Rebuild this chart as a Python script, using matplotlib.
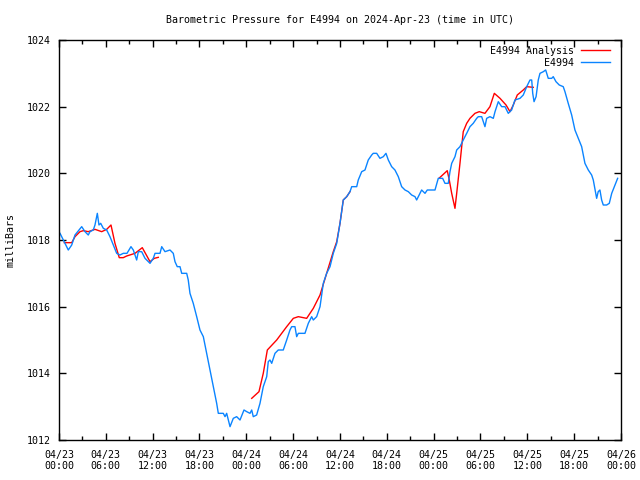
import numpy as np
import pandas as pd
import matplotlib
matplotlib.use('Agg')
from matplotlib import pyplot as plt
import matplotlib.dates as mdates

# hours since 2024-04-23 00:00 UTC, pressure in mb
obs_hours = [0.13, 1.19, 1.63, 2.05, 2.91, 3.33, 3.75, 3.97, 4.39, 4.61, 4.91, 5.12, 5.34, 5.68,
             6.11, 6.53, 6.96, 7.39, 7.81, 8.24, 8.71, 9.22, 9.52, 9.95, 10.16, 10.59, 11.02,
             11.66, 12.08, 12.3, 12.94, 13.16, 13.58, 14.22, 14.64, 14.86, 15.15, 15.5, 15.72,
             16.36, 16.56, 16.78, 17.2, 17.64, 18.06, 18.49, 18.92, 19.34, 19.77, 20.2, 20.41,
             21.05, 21.27, 21.48, 21.91, 22.33, 22.76, 23.19, 23.7, 24.05, 24.47, 24.69, 24.89,
             25.32, 25.75, 26.17, 26.61, 26.81, 27.03, 27.25, 27.67, 28.09, 28.73, 29.17, 29.59,
             29.81, 30.23, 30.45, 30.66, 31.51, 31.94, 32.37, 32.58, 33.01, 33.44, 33.86, 34.29,
             34.72, 35.14, 35.58, 36.0, 36.42, 36.86, 37.28, 37.5, 38.14, 38.34, 38.78, 39.2,
             39.62, 40.06, 40.26, 40.7, 41.12, 41.55, 41.89, 42.19, 42.62, 43.04, 43.47, 43.9,
             44.33, 44.75, 45.18, 45.61, 45.82, 46.25, 46.46, 46.89, 47.18, 48.17, 48.59, 49.15,
             49.45, 49.87, 50.09, 50.31, 50.73, 50.95, 51.37, 51.79, 52.23, 52.65, 53.07, 53.51,
             53.72, 54.15, 54.57, 54.79, 55.21, 55.64, 55.86, 56.28, 56.71, 57.14, 57.56, 57.99,
             58.41, 59.06, 59.48, 59.92, 60.34, 60.56, 60.69, 60.86, 61.12, 61.4, 61.62, 62.05,
             62.35, 62.68, 63.12, 63.32, 63.67, 64.09, 64.6, 64.82, 65.24, 65.68, 66.1, 66.53,
             66.96, 67.38, 67.81, 68.24, 68.45, 68.88, 69.08, 69.3, 69.52, 69.73, 70.16, 70.5,
             70.81, 71.23, 71.57]
obs_mb = [1018.2, 1017.7, 1017.85, 1018.15, 1018.4, 1018.25, 1018.15, 1018.25, 1018.3, 1018.45,
          1018.8, 1018.45, 1018.5, 1018.35, 1018.3, 1018.1, 1017.85, 1017.6, 1017.55, 1017.6,
          1017.6, 1017.8, 1017.7, 1017.4, 1017.65, 1017.65, 1017.45, 1017.3, 1017.45, 1017.6,
          1017.6, 1017.8, 1017.65, 1017.7, 1017.6, 1017.35, 1017.2, 1017.2, 1017.0, 1017.0,
          1016.8, 1016.4, 1016.1, 1015.7, 1015.3, 1015.1, 1014.6, 1014.1, 1013.6, 1013.1,
          1012.8, 1012.8, 1012.7, 1012.8, 1012.4, 1012.65, 1012.7, 1012.6, 1012.9, 1012.85,
          1012.8, 1012.9, 1012.7, 1012.75, 1013.1, 1013.6, 1013.9, 1014.35, 1014.4, 1014.3,
          1014.6, 1014.7, 1014.7, 1015.0, 1015.3, 1015.4, 1015.4, 1015.1, 1015.2, 1015.2,
          1015.5, 1015.7, 1015.6, 1015.7, 1016.0, 1016.7, 1017.0, 1017.2, 1017.6, 1017.9,
          1018.5, 1019.2, 1019.3, 1019.45, 1019.6, 1019.6, 1019.8, 1020.05, 1020.1, 1020.4,
          1020.55, 1020.6, 1020.6, 1020.45, 1020.5, 1020.6, 1020.4, 1020.2, 1020.1, 1019.9,
          1019.6, 1019.5, 1019.45, 1019.35, 1019.3, 1019.2, 1019.4, 1019.5, 1019.4, 1019.5,
          1019.5, 1019.85, 1019.85, 1019.7, 1019.7, 1020.05, 1020.3, 1020.5, 1020.7, 1020.8,
          1021.0, 1021.2, 1021.4, 1021.5, 1021.65, 1021.7, 1021.7, 1021.4, 1021.65, 1021.7,
          1021.65, 1021.85, 1022.15, 1022.0, 1022.0, 1021.8, 1021.9, 1022.2, 1022.25, 1022.35,
          1022.6, 1022.8, 1022.8, 1022.4, 1022.15, 1022.3, 1022.8, 1023.0, 1023.05, 1023.1,
          1022.85, 1022.85, 1022.9, 1022.75, 1022.65, 1022.6, 1022.45, 1022.1, 1021.75, 1021.3,
          1021.05, 1020.8, 1020.3, 1020.1, 1019.95, 1019.8, 1019.25, 1019.45, 1019.5, 1019.2,
          1019.05, 1019.05, 1019.1, 1019.4, 1019.65, 1019.85]

# analysis series, NaN marks the gaps
ana_hours = [0.68, 1.63, 2.05, 2.69, 3.11, 3.75, 4.61, 5.47, 6.11, 6.66, 7.17, 7.72, 8.23, 8.67,
             9.74, 10.67, 11.66, 12.21, 12.72, 13.0,
             24.69, 25.62, 26.17, 26.69, 27.89, 29.17, 30.02, 30.66, 31.73, 32.58, 33.44, 34.29,
             35.14, 35.58, 36.0, 36.42, 36.86, 37.28, 40.0,
             48.68, 49.74, 50.0, 50.31, 50.73, 50.95, 51.37, 51.59, 51.79, 52.23, 52.65, 53.29,
             53.84, 54.57, 55.21, 55.77, 56.5, 57.27, 57.78, 58.2, 58.71, 59.48, 59.92, 60.76]
ana_mb = [1017.92, 1017.92, 1018.1, 1018.25, 1018.28, 1018.25, 1018.32, 1018.25, 1018.32, 1018.45,
          1017.9, 1017.47, 1017.47, 1017.52, 1017.6, 1017.77, 1017.35, 1017.45, 1017.48, np.nan,
          1013.25, 1013.45, 1014.0, 1014.7, 1015.0, 1015.4, 1015.65, 1015.7, 1015.65, 1015.95,
          1016.35, 1017.0, 1017.65, 1017.95, 1018.5, 1019.2, 1019.3, 1019.45, np.nan,
          1019.85, 1020.08, 1019.8, 1019.4, 1018.95, 1019.4, 1020.3, 1020.8, 1021.25, 1021.5,
          1021.65, 1021.8, 1021.85, 1021.8, 1022.0, 1022.4, 1022.25, 1022.05, 1021.85, 1022.05,
          1022.35, 1022.5, 1022.6, 1022.58]

start = pd.Timestamp('2024-04-23 00:00')
obs_t = start + pd.to_timedelta(obs_hours, unit='h')
ana_t = start + pd.to_timedelta(ana_hours, unit='h')

plt.rcParams['font.family'] = 'DejaVu Sans Mono'
plt.rcParams['font.size'] = 7.2

fig = plt.figure(figsize=(6.4, 4.8), dpi=100)
ax = fig.add_axes([59 / 640, 40 / 480, 562 / 640, 400 / 480])

ax.plot(ana_t, ana_mb, color='#ff0000', lw=1, label='E4994 Analysis')
ax.plot(obs_t, obs_mb, color='#0a84ff', lw=1, label='E4994')

ax.set_xlim(start, start + pd.Timedelta(hours=72))
ax.set_ylim(1012, 1024)
ax.set_yticks(np.arange(1012, 1025, 2))
ax.xaxis.set_major_locator(mdates.HourLocator(byhour=range(0, 24, 6)))
ax.xaxis.set_minor_locator(mdates.HourLocator(byhour=range(3, 24, 6)))
ax.xaxis.set_major_formatter(mdates.DateFormatter('%m/%d\n%H:%M'))
ax.tick_params(which='both', direction='in', top=True, right=True, width=1)
ax.tick_params(which='major', length=5, pad=7)
ax.tick_params(which='minor', length=3)
ax.tick_params(axis='y', pad=6)
for s in ax.spines.values():
    s.set_linewidth(1)

ax.set_title('Barometric Pressure for E4994 on 2024-Apr-23 (time in UTC)', fontsize=7.2, pad=12)
ax.set_ylabel('milliBars', labelpad=8)

ax.legend(loc='upper right', bbox_to_anchor=(0.993, 1.003), frameon=False, markerfirst=False,
          handlelength=2.9, handletextpad=0.7, labelspacing=0.2, borderpad=0.2)

fig.savefig('out.png', dpi=100)
